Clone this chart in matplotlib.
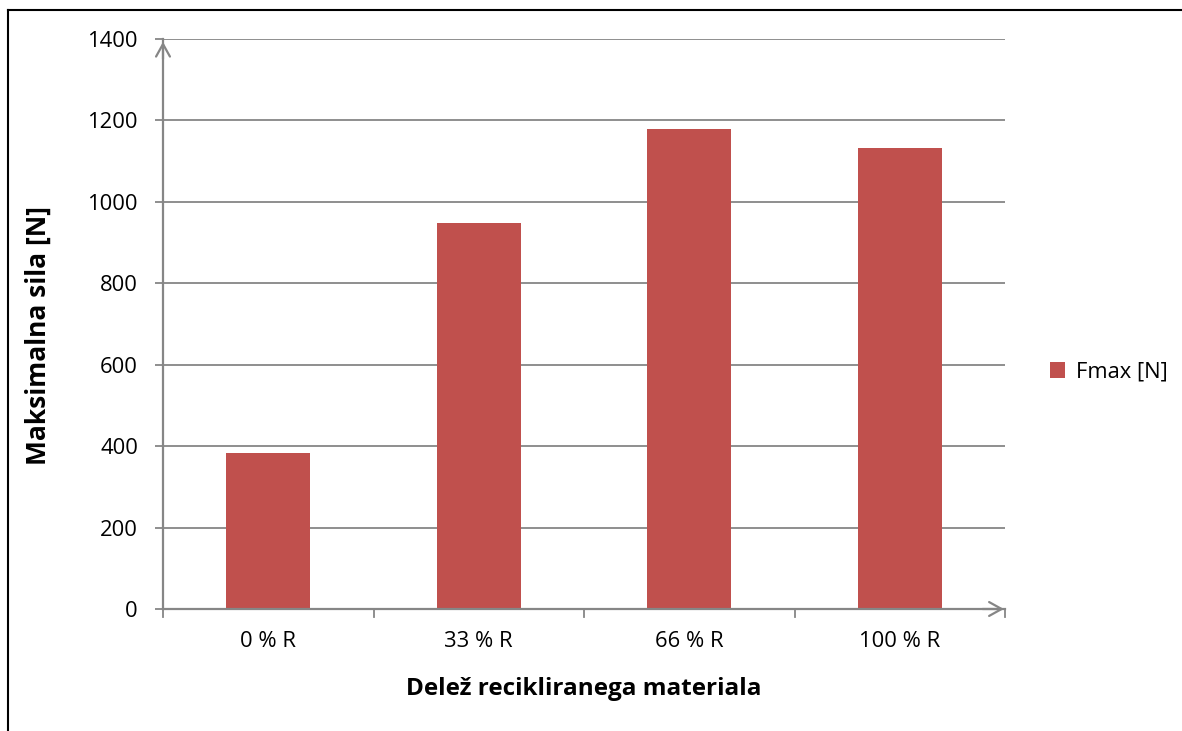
import matplotlib
matplotlib.use("Agg")
import matplotlib.pyplot as plt
from matplotlib.lines import Line2D

categories = ["0 % R", "33 % R", "66 % R", "100 % R"]
fmax = [383, 948, 1178, 1132]
series_name = "Fmax [N]"
yticks = [0, 200, 400, 600, 800, 1000, 1200, 1400]

plt.rcParams["font.family"] = ["Open Sans", "DejaVu Sans"]

W, H = 1182, 731
fig = plt.figure(figsize=(W / 100, H / 100), dpi=100)
ax = fig.add_axes([163 / W, 1 - 609 / H, (1005 - 163) / W, (609 - 39) / H])

bar_color = "#C0504D"
grid_color = "#868686"
tick_fs = 15.8
title_fs = 17.5

x = list(range(len(categories)))
ax.bar(x, fmax, width=0.4, color=bar_color, zorder=3, label=series_name)

ax.set_xlim(-0.5, len(categories) - 0.5)
ax.set_ylim(0, 1400)
ax.set_yticks(yticks)
ax.set_yticklabels([str(v) for v in yticks], fontsize=tick_fs)
ax.yaxis.grid(True, color=grid_color, linewidth=1.3, zorder=0)

ax.set_xticks(x)
ax.set_xticklabels(categories, fontsize=tick_fs)
ax.tick_params(axis="x", length=0, pad=16)
ax.tick_params(axis="y", length=6, width=1.3, color=grid_color, pad=12)

# category boundary ticks below the x axis
for b in [i - 0.5 for i in range(len(categories) + 1)]:
    ax.add_line(Line2D([b, b], [0, -0.014 * 1400], color=grid_color,
                       linewidth=1.3, clip_on=False, zorder=4))

for s in ["top", "right"]:
    ax.spines[s].set_visible(False)
for s in ["left", "bottom"]:
    ax.spines[s].set_color(grid_color)
    ax.spines[s].set_linewidth(1.6)
    ax.spines[s].set_zorder(4)

# open arrow heads at the ends of both axes
ax.annotate("", xy=(0, 1.0), xycoords="axes fraction", xytext=(0, 0.96),
            arrowprops=dict(arrowstyle="->,head_length=0.9,head_width=0.5",
                            color=grid_color, lw=1.6), annotation_clip=False)
ax.annotate("", xy=(1.002, 0), xycoords="axes fraction", xytext=(0.97, 0),
            arrowprops=dict(arrowstyle="->,head_length=0.9,head_width=0.5",
                            color=grid_color, lw=1.6), annotation_clip=False)

ax.set_xlabel("Delež recikliranega materiala", fontsize=title_fs, fontweight="bold", labelpad=18)
ax.set_ylabel("Maksimalna sila [N]", fontsize=19, fontweight="bold")
ax.yaxis.set_label_coords(-0.132, 0.479)

# legend
fig.legend(loc="center left", bbox_to_anchor=(1030 / W, 1 - 372 / H), frameon=False,
           fontsize=tick_fs, handlelength=0.7, handleheight=0.7, handletextpad=0.5)

# outer frame (top and left edges)
fig.add_artist(Line2D([7.5 / W, 1], [1 - 9.5 / H, 1 - 9.5 / H], color="black",
                      linewidth=1.5, transform=fig.transFigure))
fig.add_artist(Line2D([7.5 / W, 7.5 / W], [0, 1 - 9.5 / H], color="black",
                      linewidth=1.5, transform=fig.transFigure))

fig.savefig("out.png", dpi=100)
